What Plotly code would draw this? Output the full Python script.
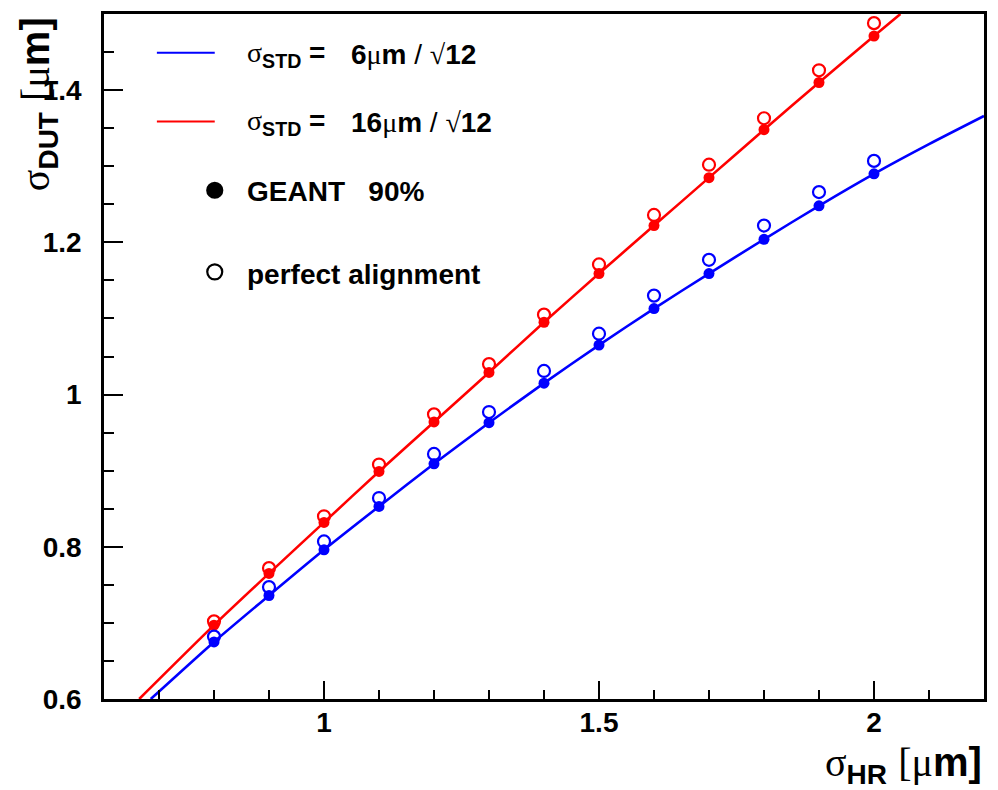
import plotly.graph_objects as go

# sigma_HR values of the simulated points [um]
sigma_hr = [0.8, 0.9, 1.0, 1.1, 1.2, 1.3, 1.4, 1.5, 1.6, 1.7, 1.8, 1.9, 2.0]

# sigma_STD = 6um/sqrt(12): GEANT 90% and perfect alignment
blue_geant = [0.675, 0.736, 0.796, 0.853, 0.909, 0.963, 1.015, 1.065, 1.113, 1.159, 1.204, 1.248, 1.290]
blue_perfect = [0.682, 0.747, 0.807, 0.864, 0.922, 0.977, 1.031, 1.080, 1.130, 1.177, 1.222, 1.266, 1.307]

# sigma_STD = 16um/sqrt(12): GEANT 90% and perfect alignment
red_geant = [0.697, 0.765, 0.832, 0.899, 0.964, 1.029, 1.095, 1.159, 1.222, 1.285, 1.348, 1.410, 1.471]
red_perfect = [0.702, 0.772, 0.840, 0.908, 0.974, 1.040, 1.105, 1.171, 1.236, 1.302, 1.363, 1.426, 1.488]

# analytic curves
blue_curve_x = [0.685, 0.8, 0.9, 1.0, 1.1, 1.2, 1.3, 1.4, 1.5, 1.6, 1.7, 1.8, 1.9, 2.0, 2.1, 2.2]
blue_curve_y = [0.600, 0.675, 0.736, 0.796, 0.853, 0.909, 0.963, 1.015, 1.065, 1.113, 1.159, 1.204, 1.248, 1.290, 1.329, 1.366]
red_curve_x = [0.664, 0.8, 0.9, 1.0, 1.1, 1.2, 1.3, 1.4, 1.5, 1.6, 1.7, 1.8, 1.9, 2.0, 2.048]
red_curve_y = [0.600, 0.697, 0.765, 0.832, 0.899, 0.964, 1.029, 1.095, 1.159, 1.222, 1.285, 1.348, 1.410, 1.471, 1.500]

BLUE = "#0000ff"
RED = "#ff0000"
SANS = "Liberation Sans"
SERIF = "Liberation Serif"

W, H = 998, 790
L, R, T, B = 104, 12, 11, 91
PW, PH = W - L - R, H - T - B


def px(xpix):
    return (xpix - L) / PW


def py(ypix):
    return (H - B - ypix) / PH


def sym(ch):
    return f"<span style=\"font-family:'{SERIF}';font-weight:normal\">{ch}</span>"


def thin(ch):
    return f"<span style=\"font-weight:normal\">{ch}</span>"


fig = go.Figure()

for cx, cy, col in [(blue_curve_x, blue_curve_y, BLUE), (red_curve_x, red_curve_y, RED)]:
    fig.add_trace(go.Scatter(x=cx, y=cy, mode="lines",
                             line=dict(color=col, width=2.6, shape="spline", smoothing=0.6),
                             hoverinfo="skip", showlegend=False))

for yv, col in [(blue_geant, BLUE), (red_geant, RED)]:
    fig.add_trace(go.Scatter(x=sigma_hr, y=yv, mode="markers",
                             marker=dict(symbol="circle", size=11, color=col),
                             showlegend=False))

for yv, col in [(blue_perfect, BLUE), (red_perfect, RED)]:
    fig.add_trace(go.Scatter(x=sigma_hr, y=yv, mode="markers",
                             marker=dict(symbol="circle-open", size=12, color=col,
                                         line=dict(width=2.2, color=col)),
                             showlegend=False))

shapes = []
annotations = []

# legend: line samples
for ypix, col in [(50, BLUE), (119, RED)]:
    shapes.append(dict(type="line", xref="paper", yref="paper",
                       x0=px(157), x1=px(215), y0=py(ypix), y1=py(ypix),
                       line=dict(color=col, width=2)))

# legend: marker samples
for ypix, filled in [(188, True), (270, False)]:
    shapes.append(dict(type="circle", xref="paper", yref="paper",
                       xsizemode="pixel", ysizemode="pixel",
                       xanchor=px(215), yanchor=py(ypix),
                       x0=-7.5, x1=7.5, y0=-7.5, y1=7.5,
                       fillcolor="black" if filled else "rgba(0,0,0,0)",
                       line=dict(color="black", width=2.2)))

legend_font = dict(family=SANS, size=28, color="black", weight="bold")

for ypix, num in [(52, "6"), (120, "16")]:
    annotations.append(dict(xref="paper", yref="paper", x=px(245), y=py(ypix),
                            xanchor="left", yanchor="middle", showarrow=False,
                            text=f"{sym('σ')}<sub>STD</sub> =", font=legend_font))
    annotations.append(dict(xref="paper", yref="paper", x=px(350), y=py(ypix),
                            xanchor="left", yanchor="middle", showarrow=False,
                            text=f"{num}{sym('μ')}m {thin('/')} {sym('√')}12", font=legend_font))

annotations.append(dict(xref="paper", yref="paper", x=px(245), y=py(189),
                        xanchor="left", yanchor="middle", showarrow=False,
                        text="GEANT\u00a0\u00a0\u00a090%", font=legend_font))
annotations.append(dict(xref="paper", yref="paper", x=px(245), y=py(273),
                        xanchor="left", yanchor="middle", showarrow=False,
                        text="perfect alignment", font=legend_font))

title_font = dict(family=SANS, size=40, color="black", weight="bold")

# axis titles
annotations.append(dict(xref="paper", yref="paper", x=px(986), y=py(765),
                        xanchor="right", yanchor="middle", showarrow=False,
                        text=f"{sym('σ')}<sub>HR</sub> {sym('[μ')}m]", font=title_font))
annotations.append(dict(xref="paper", yref="paper", x=px(38), y=py(12),
                        xanchor="center", yanchor="top", showarrow=False, textangle=-90,
                        text=f"{sym('σ')}<sub>DUT</sub> {sym('[μ')}m]", font=title_font))

tick_font = dict(family=SANS, size=28, color="black", weight="bold")

fig.update_layout(
    width=W, height=H,
    margin=dict(l=L, r=R, t=T, b=B, pad=0),
    paper_bgcolor="white", plot_bgcolor="white",
    shapes=shapes, annotations=annotations,
    xaxis=dict(range=[0.6, 2.2], showgrid=False, zeroline=False,
               tick0=0, dtick=0.5, ticks="inside", ticklen=18, tickwidth=1.5,
               tickcolor="black", tickfont=tick_font, ticklabelstandoff=-3,
               minor=dict(dtick=0.1, ticks="inside", ticklen=9, tickwidth=1.5,
                          tickcolor="black", showgrid=False),
               showline=True, linecolor="black", linewidth=2.5, mirror=True),
    yaxis=dict(range=[0.6, 1.5], showgrid=False, zeroline=False,
               tick0=0.6, dtick=0.2, ticks="inside", ticklen=19, tickwidth=1.5,
               tickcolor="black", tickfont=tick_font, ticklabelstandoff=14,
               tickformat="~g",
               minor=dict(dtick=0.05, ticks="inside", ticklen=10, tickwidth=1.5,
                          tickcolor="black", showgrid=False),
               showline=True, linecolor="black", linewidth=2.5, mirror=True),
)

fig.write_html("out.html")
